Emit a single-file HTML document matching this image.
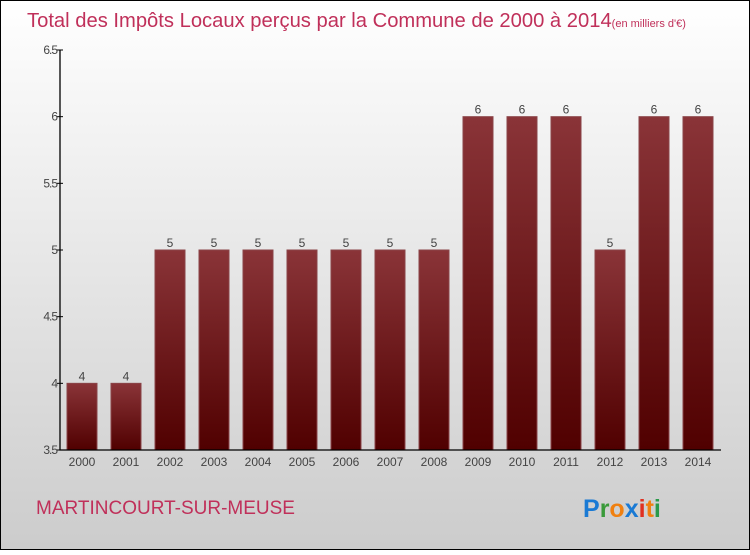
<!DOCTYPE html>
<html><head><meta charset="utf-8"><style>
body{margin:0;width:750px;height:550px;overflow:hidden;font-family:"Liberation Sans",sans-serif}
</style></head><body>
<svg id="c" width="750" height="550" xmlns="http://www.w3.org/2000/svg">
<defs>
<linearGradient id="bg" x1="0" y1="0" x2="0" y2="1"><stop offset="0" stop-color="#ffffff"/><stop offset="1" stop-color="#cccccc"/></linearGradient>
<linearGradient id="bar" x1="0" y1="0" x2="0" y2="1"><stop offset="0" stop-color="#8a3438"/><stop offset="1" stop-color="#500000"/></linearGradient>
</defs>
<rect x="0.5" y="0.5" width="749" height="549" fill="url(#bg)" stroke="#000"/>
<text x="27" y="27" font-size="20.2" fill="#c0305a">Total des Impôts Locaux perçus par la Commune de 2000 à 2014<tspan font-size="11">(en milliers d'€)</tspan></text>
<g id="plot"></g>
<text x="36" y="514" font-size="19" fill="#c0305a">MARTINCOURT-SUR-MEUSE</text>
<text x="583" y="517" font-size="25" font-weight="bold"><tspan fill="#1a7ad4">P</tspan><tspan fill="#3a9a3a">r</tspan><tspan fill="#f08010">o</tspan><tspan fill="#1a7ad4">x</tspan><tspan fill="#e03020">i</tspan><tspan fill="#f08010">t</tspan><tspan fill="#2a9a4a">i</tspan></text>
</svg>
<script>
const years=["2000","2001","2002","2003","2004","2005","2006","2007","2008","2009","2010","2011","2012","2013","2014"];
const values=[4,4,5,5,5,5,5,5,5,6,6,6,5,6,6];
const yTicks=[3.5,4,4.5,5,5.5,6,6.5];
const ns="http://www.w3.org/2000/svg",g=document.getElementById("plot");
const y0=450,y1=50,vmin=3.5,vmax=6.5,x0=60,xEnd=721;
const y=v=>y0-(v-vmin)/(vmax-vmin)*(y0-y1);
const x=i=>82+i*44;
function mk(t,a){const e=document.createElementNS(ns,t);for(const k in a)e.setAttribute(k,a[k]);g.appendChild(e);return e;}
values.forEach((v,i)=>{
 const r=mk("rect",{x:x(i)-15,y:y(v),width:30,height:y0-y(v),fill:"url(#bar)",stroke:"#8a4448","stroke-width":1});
 
 
 const t=mk("text",{x:x(i),y:y(v)-3,"text-anchor":"middle","font-size":12,fill:"#444"});t.textContent=v;
 
 
 const xl=mk("text",{x:x(i),y:466,"text-anchor":"middle","font-size":12,fill:"#444"});xl.textContent=years[i];
 
 
});
const ax=mk("path",{d:`M${x0},${y1} V${y0} H${xEnd}`,stroke:"#000",fill:"none","stroke-width":1.3});


yTicks.forEach(v=>{
 mk("line",{x1:x0-3,x2:x0+3,y1:y(v),y2:y(v),stroke:"#000"});
 const t=mk("text",{x:x0-3,y:y(v)+4,"text-anchor":"end","font-size":12,fill:"#444","letter-spacing":"-1"});t.textContent=v;
 
 
});
</script>
</body></html>
